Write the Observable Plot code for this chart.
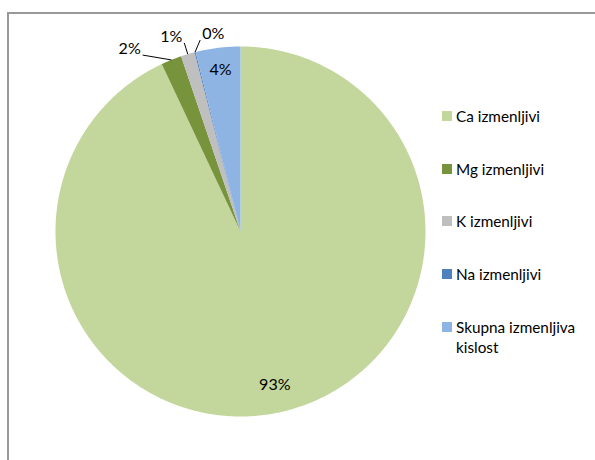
<!DOCTYPE html>
<html>
<head>
<meta charset="utf-8">
<script src="https://cdn.jsdelivr.net/npm/d3@7"></script>
<script src="https://cdn.jsdelivr.net/npm/@observablehq/plot@0.6"></script>
<style>
  html, body { margin: 0; padding: 0; background: #fff; width: 595px; height: 460px; overflow: hidden; }
  #frame { position: absolute; left: 7px; top: 12px; width: 620px; height: 480px; border: 2px solid #999; box-sizing: border-box; }
  #chart { position: absolute; left: 0; top: 0; }
  #legend { position: absolute; left: 442px; top: 106px; font-family: Lato, "Open Sans", sans-serif; font-size: 15.3px; color: #000; }
  .row { display: flex; align-items: flex-start; line-height: 20.5px; margin-bottom: 32.2px; }
  .sw { width: 10px; height: 10px; margin-top: 5px; margin-right: 4px; flex: none; }
  .lab { width: 132px; }
</style>
</head>
<body>
<div id="frame"></div>
<div id="chart"></div>
<div id="legend"></div>
<script>
const categories = ["Ca izmenljivi", "Mg izmenljivi", "K izmenljivi", "Na izmenljivi", "Skupna izmenljiva kislost"];
const values = [93.0, 1.8, 1.2, 0.1, 3.9];
const labels = ["93%", "2%", "1%", "0%", "4%"];
const colors = ["#c3d69b", "#77933c", "#bfbfbf", "#4f81bd", "#8eb4e3"];

const total = d3.sum(values);
const rad = Math.PI / 180;
// clockwise from 12 o'clock (degrees)
let acc = 0;
const slices = categories.map((name, i) => {
  const a0 = acc / total * 360;
  acc += values[i];
  const a1 = acc / total * 360;
  return {name, i, a0, a1, mid: (a0 + a1) / 2, label: labels[i], share: values[i] / total};
});
const pt = (r, deg) => ({x: r * Math.sin(deg * rad), y: r * Math.cos(deg * rad)});

// polygon points for each slice
const poly = [];
for (const s of slices) {
  const n = Math.max(2, Math.ceil((s.a1 - s.a0) / 0.5));
  poly.push({name: s.name, ...pt(0, 0)});
  for (let k = 0; k <= n; k++) poly.push({name: s.name, ...pt(1, s.a0 + (s.a1 - s.a0) * k / n)});
  poly.push({name: s.name, ...pt(0, 0)});
}

// inside labels for big slices
const inside = slices.filter(s => s.share >= 0.03).map(s => ({...pt(s.share > 0.5 ? 0.85 : 0.88, s.mid), label: s.label}));

// outside labels (spread apart) for small slices, with leader lines
const px = 2 / 370; // one pixel in data units
const small = slices.filter(s => s.share < 0.03);
const center = d3.mean(small, s => s.mid) - 2;
const spread = 11.7;
const outside = small.map((s, j) => {
  const la = center + (j - (small.length - 1) / 2) * spread;
  const r = 1.05 + 0.2 * Math.abs(Math.sin(la * rad)); // wider text needs more room sideways
  const t = pt(r, la);
  const e = pt(1.0, s.mid);
  const side = e.x > t.x ? 1 : -1;
  return {label: s.label, tx: t.x, ty: t.y, x1: e.x, y1: e.y,
          x2: t.x + side * 13 * px, y2: t.y - 6 * px};
});

const plot = Plot.plot({
  width: 595,
  height: 460,
  margin: 0,
  x: {domain: [-1, 1], range: [55, 425], axis: null},
  y: {domain: [-1, 1], range: [416, 46], axis: null},
  color: {domain: categories, range: colors},
  style: {fontFamily: "Lato, 'Open Sans', sans-serif", background: "transparent"},
  marks: [
    Plot.line(poly, {x: "x", y: "y", z: "name", fill: "name", stroke: "none"}),
    Plot.text(inside, {x: "x", y: "y", text: "label", fontSize: 16, fill: "#000"}),
    Plot.link(outside, {x1: "x1", y1: "y1", x2: "x2", y2: "y2", stroke: "#000", strokeWidth: 1}),
    Plot.text(outside, {x: "tx", y: "ty", text: "label", fontSize: 16, fill: "#000"})
  ]
});
document.getElementById("chart").appendChild(plot);

const leg = document.getElementById("legend");
categories.forEach((c, i) => {
  const row = document.createElement("div");
  row.className = "row";
  const sw = document.createElement("div");
  sw.className = "sw";
  sw.style.background = colors[i];
  const lab = document.createElement("div");
  lab.className = "lab";
  lab.textContent = c;
  row.appendChild(sw);
  row.appendChild(lab);
  leg.appendChild(row);
});
</script>
</body>
</html>
